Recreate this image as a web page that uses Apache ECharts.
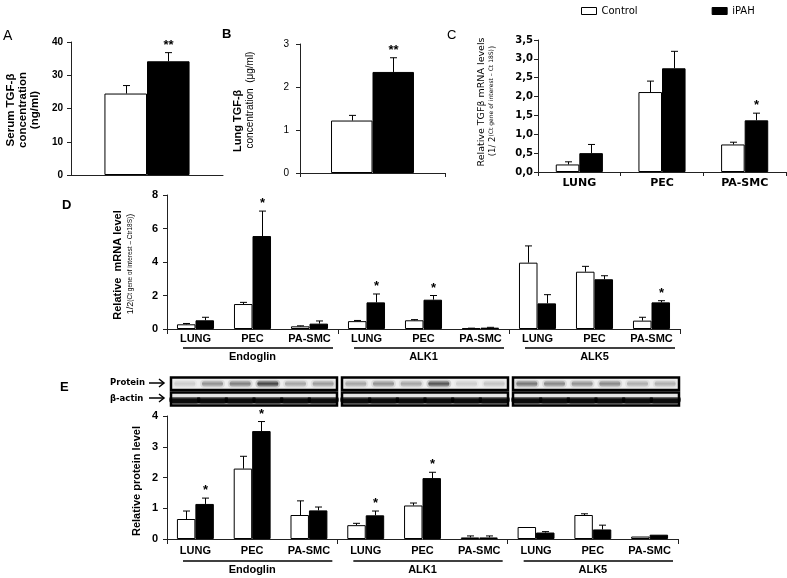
<!DOCTYPE html>
<html><head><meta charset="utf-8">
<script src="https://cdn.jsdelivr.net/npm/echarts@6/dist/echarts.min.js"></script>
<style>html,body{margin:0;padding:0;background:#fff}#c{width:787px;height:578px}</style>
</head><body><div id="c"></div>
<script>
// ---------- DATA ----------
// Panel A: serum TGF-beta (ng/ml)
const aCats = [''];
const aCtrl = [24.5], aCtrlErr = [2.4];
const aIpah = [34.2], aIpahErr = [2.6];
const aStars = ['**'];
const aTicks = {min: 0, max: 40, interval: 10};
// Panel B: lung TGF-beta (ug/ml)
const bCats = [''];
const bCtrl = [1.22], bCtrlErr = [0.12];
const bIpah = [2.35], bIpahErr = [0.33];
const bStars = ['**'];
const bTicks = {min: 0, max: 3, interval: 1};
// Panel C: relative TGFb mRNA
const cCats = ['LUNG', 'PEC', 'PA-SMC'];
const cCtrl = [0.20, 2.12, 0.73], cCtrlErr = [0.07, 0.29, 0.06];
const cIpah = [0.50, 2.75, 1.37], cIpahErr = [0.23, 0.45, 0.19];
const cStars = ['', '', '*'];
const cTicks = {min: 0, max: 3.5, interval: 0.5};
// Panel D: relative mRNA level
const groups = ['Endoglin', 'ALK1', 'ALK5'];
const dCats = ['LUNG', 'PEC', 'PA-SMC', 'LUNG', 'PEC', 'PA-SMC', 'LUNG', 'PEC', 'PA-SMC'];
const dCtrl = [0.28, 1.49, 0.16, 0.47, 0.52, 0.04, 3.96, 3.42, 0.50];
const dCtrlErr = [0.05, 0.10, 0.03, 0.04, 0.04, 0.01, 1.00, 0.32, 0.20];
const dIpah = [0.52, 5.55, 0.32, 1.59, 1.75, 0.08, 1.53, 2.97, 1.59];
const dIpahErr = [0.18, 1.49, 0.16, 0.50, 0.25, 0.02, 0.52, 0.21, 0.10];
const dStars = ['', '*', '', '*', '*', '', '', '', '*'];
const dTicks = {min: 0, max: 8, interval: 2};
// Panel E: relative protein level
const eCats = dCats;
const eCtrl = [0.65, 2.29, 0.78, 0.45, 1.09, 0.05, 0.39, 0.78, 0.08];
const eCtrlErr = [0.26, 0.40, 0.46, 0.06, 0.08, 0.05, 0.00, 0.04, 0.00];
const eIpah = [1.14, 3.51, 0.93, 0.77, 1.98, 0.05, 0.21, 0.31, 0.14];
const eIpahErr = [0.19, 0.31, 0.11, 0.14, 0.19, 0.05, 0.03, 0.14, 0.00];
const eStars = ['*', '*', '', '*', '*', '', '', '', ''];
const eTicks = {min: 0, max: 4, interval: 1};
// Western blot band intensities (6 lanes per gene box)
const blotProtein = [
  [0.15, 0.45, 0.55, 0.9, 0.35, 0.4],
  [0.35, 0.45, 0.35, 0.8, 0.15, 0.2],
  [0.6, 0.5, 0.45, 0.5, 0.3, 0.3]
];
const blotActin = [
  [0.95, 0.95, 0.95, 0.95, 0.95, 0.95],
  [0.95, 0.95, 0.95, 0.95, 0.95, 0.95],
  [0.95, 0.95, 0.95, 0.95, 0.95, 0.95]
];

// ---------- HELPERS ----------
const AR = "'Liberation Sans', Arial, sans-serif";
const TH = "'DejaVu Sans', Verdana, sans-serif";
const AX = '#222';

function barSeries(name, xi, yi, vals, pct, fill) {
  return {
    type: 'bar', name, xAxisIndex: xi, yAxisIndex: yi, data: vals,
    barWidth: pct, barGap: '0%', silent: true,
    itemStyle: {color: fill, borderColor: '#000', borderWidth: 1}
  };
}
function errSeries(xi, yi, vals, errs, stars, side, pctNum) {
  return {
    type: 'custom', xAxisIndex: xi, yAxisIndex: yi, z: 5, silent: true,
    data: vals.map((v, i) => [i, v, v + errs[i]]),
    encode: {x: 0, y: [1, 2]},
    renderItem(params, api) {
      const i = api.value(0), v = api.value(1), top = api.value(2);
      const p = api.coord([i, v]), q = api.coord([i, top]);
      const bw = api.size([1, 0])[0] * pctNum;
      const x = Math.round(p[0] + side * bw / 2) + 0.5;
      const ch = [];
      if (top > v) {
        ch.push({type: 'line', shape: {x1: x, y1: p[1], x2: x, y2: q[1]}, style: {stroke: '#000', lineWidth: 1}});
        ch.push({type: 'line', shape: {x1: x - 3.5, y1: q[1], x2: x + 3.5, y2: q[1]}, style: {stroke: '#000', lineWidth: 1}});
      }
      const s = stars ? stars[params.dataIndex] : '';
      if (s) ch.push({type: 'text', x: x, y: q[1] - 1, style: {text: s, font: 'bold 13px ' + AR, fill: '#000', textAlign: 'center', textVerticalAlign: 'bottom'}});
      return {type: 'group', children: ch};
    }
  };
}
function underline(xi, yi, dy) {
  return {
    type: 'custom', xAxisIndex: xi, yAxisIndex: yi, silent: true, clip: false,
    data: groups.map((g, i) => [i, 0]),
    encode: {x: 0, y: 1},
    renderItem(params, api) {
      const c = api.coord([api.value(0), 0]);
      const w = api.size([1, 0])[0];
      return {type: 'line', shape: {x1: c[0] - w / 2 + 16, y1: c[1] + dy, x2: c[0] + w / 2 - 5, y2: c[1] + dy},
        style: {stroke: '#000', lineWidth: 1.5}};
    }
  };
}
function yAx(grid, t, fs, weight, fam, margin, fmt) {
  return {
    type: 'value', gridIndex: grid, min: t.min, max: t.max, interval: t.interval,
    axisLine: {show: true, lineStyle: {color: AX, width: 1}},
    axisTick: {show: true, length: 4, lineStyle: {color: AX}},
    splitLine: {show: false},
    axisLabel: {fontSize: fs, fontWeight: weight, fontFamily: fam, color: '#000', margin, formatter: fmt}
  };
}
function xAx(grid, cats, opts) {
  return Object.assign({
    type: 'category', gridIndex: grid, data: cats, boundaryGap: true, position: 'bottom',
    axisLine: {show: true, lineStyle: {color: AX, width: 1}},
    axisTick: {show: false},
    axisLabel: {show: false}
  }, opts);
}
const catLabel = (fam, fs, margin) => ({show: true, interval: 0, fontFamily: fam, fontSize: fs, fontWeight: 'bold', color: '#000', margin});

// ---------- CHART ----------
const chart = echarts.init(document.getElementById('c'), null, {renderer: 'canvas'});

const blotSeries = {
  type: 'custom', xAxisIndex: 5, yAxisIndex: 4, silent: true, clip: false,
  data: groups.map((g, i) => [i, 0]),
  encode: {x: 0, y: 1},
  renderItem(params, api) {
    const g = params.dataIndex;
    const c = api.coord([api.value(0), 0]);
    const top = api.coord([api.value(0), 2])[1];
    const bottom = c[1];
    const w = api.size([1, 0])[0];
    const x0 = c[0] - w / 2 + 4, x1 = c[0] + w / 2 - 1;
    const lw = (x1 - x0) / 6;
    const r1 = [top + 1.5, top + 14], r2 = [top + 16.5, bottom - 0.5];
    const ch = [];
    ch.push({type: 'rect', shape: {x: x0, y: r1[0], width: x1 - x0, height: r1[1] - r1[0]}, style: {fill: '#eeeeee'}});
    ch.push({type: 'rect', shape: {x: x0, y: r2[0], width: x1 - x0, height: r2[1] - r2[0]}, style: {fill: '#e4e4e4'}});
    const m1 = (r1[0] + r1[1]) / 2, m2 = (r2[0] + r2[1]) / 2;
    blotProtein[g].forEach((a, k) => {
      const cx = x0 + lw * (k + 0.5);
      ch.push({type: 'rect', shape: {x: cx - lw * 0.45, y: m1 - 4, width: lw * 0.9, height: 8, r: 4},
        style: {fill: 'rgba(0,0,0,' + (a * 0.18) + ')'}});
      ch.push({type: 'rect', shape: {x: cx - lw * 0.38, y: m1 - 3, width: lw * 0.76, height: 6, r: 3},
        style: {fill: {type: 'linear', x: 0, y: 0, x2: 0, y2: 1, colorStops: [
          {offset: 0, color: 'rgba(0,0,0,' + (a * 0.2) + ')'}, {offset: 0.5, color: 'rgba(0,0,0,' + (a * 0.75) + ')'}, {offset: 1, color: 'rgba(0,0,0,' + (a * 0.2) + ')'}]}}});
    });
    blotActin[g].forEach((a, k) => {
      const cx = x0 + lw * (k + 0.5);
      ch.push({type: 'rect', shape: {x: cx - lw * 0.56, y: m2 - 2, width: lw * 1.12, height: 7, r: [1, 1, 4, 4]},
        style: {fill: {type: 'linear', x: 0, y: 0, x2: 0, y2: 1, colorStops: [
          {offset: 0, color: 'rgba(0,0,0,' + (a * 0.45) + ')'}, {offset: 0.3, color: 'rgba(0,0,0,' + a + ')'}, {offset: 0.8, color: 'rgba(0,0,0,' + a + ')'}, {offset: 1, color: 'rgba(0,0,0,' + (a * 0.5) + ')'}]}}});
    });
    ch.push({type: 'rect', shape: {x: x0, y: r1[0], width: x1 - x0, height: r1[1] - r1[0]}, style: {fill: 'none', stroke: '#000', lineWidth: 2.5}});
    ch.push({type: 'rect', shape: {x: x0, y: r2[0], width: x1 - x0, height: r2[1] - r2[0]}, style: {fill: 'none', stroke: '#000', lineWidth: 2.5}});
    return {type: 'group', children: ch};
  }
};

const commaFmt = v => v.toFixed(1).replace('.', ',');

const option = {
  animation: false,
  backgroundColor: '#fff',
  legend: {
    left: 576, top: 1, itemWidth: 15, itemHeight: 7, itemGap: 74, icon: 'rect',
    selectedMode: false,
    textStyle: {fontFamily: TH, fontSize: 10, color: '#000'},
    data: [
      {name: 'Control', itemStyle: {color: '#fff', borderColor: '#000', borderWidth: 1}},
      {name: 'iPAH', itemStyle: {color: '#000', borderColor: '#000', borderWidth: 1}}
    ]
  },
  grid: [
    {left: 71, top: 42, width: 152, height: 133},
    {left: 300, top: 44, width: 145, height: 129},
    {left: 538, top: 40, width: 248, height: 132},
    {left: 167, top: 195, width: 513, height: 134},
    {left: 167, top: 376, width: 513, height: 30},
    {left: 167, top: 416, width: 511, height: 123}
  ],
  xAxis: [
    xAx(0, aCats),
    xAx(1, bCats, {axisTick: {show: true, length: 4, lineStyle: {color: AX}}}),
    xAx(2, cCats, {axisTick: {show: true, length: 4, lineStyle: {color: AX}}, axisLabel: catLabel(TH, 11, 6)}),
    xAx(3, dCats, {axisTick: {show: true, length: 5, interval: i => i % 3 === 0, lineStyle: {color: AX}}, axisLabel: catLabel(AR, 11, 4)}),
    xAx(3, groups, {axisLine: {show: false}, offset: 14, axisLabel: catLabel(AR, 11, 8)}),
    xAx(4, groups, {show: false}),
    xAx(5, eCats, {axisTick: {show: true, length: 5, interval: i => i % 3 === 0, lineStyle: {color: AX}}, axisLabel: catLabel(AR, 11, 6)}),
    xAx(5, groups, {axisLine: {show: false}, offset: 17, axisLabel: catLabel(AR, 11, 8)})
  ],
  yAxis: [
    yAx(0, aTicks, 10, 'bold', AR, 8),
    yAx(1, bTicks, 10, 'normal', AR, 11),
    yAx(2, cTicks, 10, 'bold', TH, 5, commaFmt),
    yAx(3, dTicks, 11, 'bold', AR, 9),
    {type: 'value', gridIndex: 4, min: 0, max: 2, show: false},
    yAx(5, eTicks, 11, 'bold', AR, 9)
  ],
  series: [
    barSeries('Control', 0, 0, aCtrl, '28%', '#fff'),
    barSeries('iPAH', 0, 0, aIpah, '28%', '#000'),
    errSeries(0, 0, aCtrl, aCtrlErr, null, -1, 0.28),
    errSeries(0, 0, aIpah, aIpahErr, aStars, 1, 0.28),

    barSeries('Control', 1, 1, bCtrl, '28.6%', '#fff'),
    barSeries('iPAH', 1, 1, bIpah, '28.6%', '#000'),
    errSeries(1, 1, bCtrl, bCtrlErr, null, -1, 0.286),
    errSeries(1, 1, bIpah, bIpahErr, bStars, 1, 0.286),

    barSeries('Control', 2, 2, cCtrl, '28.5%', '#fff'),
    barSeries('iPAH', 2, 2, cIpah, '28.5%', '#000'),
    errSeries(2, 2, cCtrl, cCtrlErr, null, -1, 0.285),
    errSeries(2, 2, cIpah, cIpahErr, cStars, 1, 0.285),

    barSeries('Control', 3, 3, dCtrl, '32.5%', '#fff'),
    barSeries('iPAH', 3, 3, dIpah, '32.5%', '#000'),
    errSeries(3, 3, dCtrl, dCtrlErr, null, -1, 0.325),
    errSeries(3, 3, dIpah, dIpahErr, dStars, 1, 0.325),
    underline(4, 3, 19),

    blotSeries,

    barSeries('Control', 6, 5, eCtrl, '32.5%', '#fff'),
    barSeries('iPAH', 6, 5, eIpah, '32.5%', '#000'),
    errSeries(6, 5, eCtrl, eCtrlErr, null, -1, 0.325),
    errSeries(6, 5, eIpah, eIpahErr, eStars, 1, 0.325),
    underline(7, 5, 22)
  ],
  graphic: [
    // panel letters
    {type: 'text', x: 3, y: 29, style: {text: 'A', font: '14px ' + AR, fill: '#000'}},
    {type: 'text', x: 222, y: 28, style: {text: 'B', font: 'bold 13px ' + AR, fill: '#000'}},
    {type: 'text', x: 447, y: 29, style: {text: 'C', font: '13px ' + AR, fill: '#000'}},
    {type: 'text', x: 62, y: 199, style: {text: 'D', font: 'bold 13px ' + AR, fill: '#000'}},
    {type: 'text', x: 60, y: 381, style: {text: 'E', font: 'bold 13px ' + AR, fill: '#000'}},
    // A y title
    {type: 'text', x: 23, y: 110, rotation: Math.PI / 2, style: {text: 'Serum TGF-β\nconcentration\n(ng/ml)', font: 'bold 11.5px ' + AR, lineHeight: 12, fill: '#000', textAlign: 'center', textVerticalAlign: 'middle'}},
    // B y title
    {type: 'text', x: 238, y: 152, rotation: Math.PI / 2, style: {text: 'Lung TGF-β', font: 'bold 11px ' + AR, fill: '#000', textAlign: 'left', textVerticalAlign: 'middle'}},
    {type: 'text', x: 250, y: 100, rotation: Math.PI / 2, style: {text: 'concentration  (μg/ml)', font: '10px ' + AR, fill: '#000', textAlign: 'center', textVerticalAlign: 'middle'}},
    // C y title
    {type: 'text', x: 482, y: 102, rotation: Math.PI / 2, style: {text: 'Relative TGFβ mRNA levels', font: '9.5px ' + TH, fill: '#000', textAlign: 'center', textVerticalAlign: 'middle'}},
    {type: 'text', x: 493, y: 101, rotation: Math.PI / 2, style: {
      text: '{a|(1/ 2}{b|(Ct gene of interest – Ct 18S)}{a|)}', textAlign: 'center', textVerticalAlign: 'middle',
      rich: {a: {fontSize: 8.5, fontFamily: TH, fill: '#000', verticalAlign: 'bottom'}, b: {fontSize: 6, fontFamily: TH, fill: '#000', verticalAlign: 'top'}}}},
    // D y title
    {type: 'text', x: 118, y: 265, rotation: Math.PI / 2, style: {text: 'Relative  mRNA level', font: 'bold 11px ' + AR, fill: '#000', textAlign: 'center', textVerticalAlign: 'middle'}},
    {type: 'text', x: 131, y: 264, rotation: Math.PI / 2, style: {
      text: '{a|1/2}{b|(Ct gene of interest – Ctr18S)}{a|)}', textAlign: 'center', textVerticalAlign: 'middle',
      rich: {a: {fontSize: 9, fontFamily: AR, fill: '#000', verticalAlign: 'bottom'}, b: {fontSize: 6.5, fontFamily: AR, fill: '#000', verticalAlign: 'top'}}}},
    // E y title
    {type: 'text', x: 137, y: 481, rotation: Math.PI / 2, style: {text: 'Relative protein level', font: 'bold 11px ' + AR, fill: '#000', textAlign: 'center', textVerticalAlign: 'middle'}},
    // blot labels
    {type: 'text', x: 110, y: 383, style: {text: 'Protein', font: 'bold 8.5px ' + TH, fill: '#000', textVerticalAlign: 'middle'}},
    {type: 'text', x: 110, y: 399, style: {text: 'β-actin', font: 'bold 8.5px ' + TH, fill: '#000', textVerticalAlign: 'middle'}},
    {type: 'polyline', shape: {points: [[149, 383], [164, 383]]}, style: {stroke: '#000', lineWidth: 1.5}},
    {type: 'polyline', shape: {points: [[159, 379], [164, 383], [159, 387]]}, style: {stroke: '#000', lineWidth: 1.5, fill: 'none'}},
    {type: 'polyline', shape: {points: [[149, 398], [164, 398]]}, style: {stroke: '#000', lineWidth: 1.5}},
    {type: 'polyline', shape: {points: [[159, 394], [164, 398], [159, 402]]}, style: {stroke: '#000', lineWidth: 1.5, fill: 'none'}}
  ]
};
chart.setOption(option);
</script>
</body></html>
